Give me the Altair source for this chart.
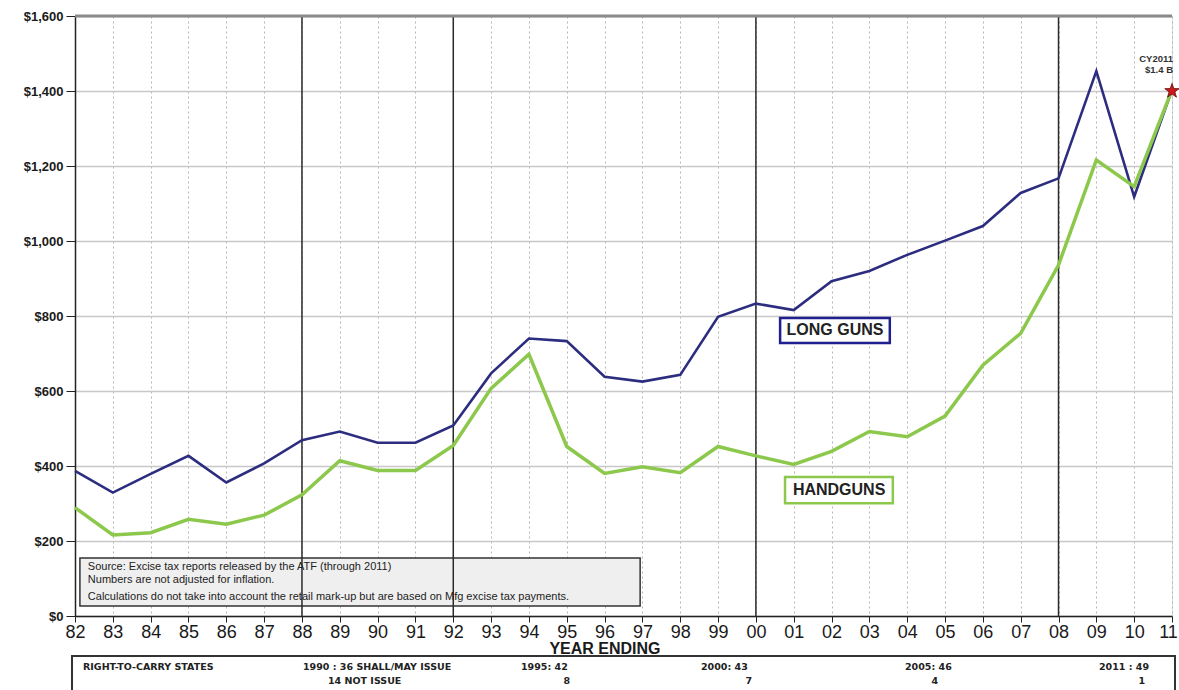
import altair as alt
import pandas as pd

# Federal excise-tax based estimate of firearm sales ($ millions), by year ending
years = list(range(1982, 2012))
long_guns = [387, 329, 379, 427, 356, 407, 469, 492, 462, 462,
             508, 647, 740, 733, 638, 625, 643, 798, 833, 816,
             893, 920, 963, 1001, 1040, 1128, 1167, 1453, 1118, 1403]
handguns = [289, 216, 222, 258, 245, 269, 323, 414, 388, 388,
            455, 607, 698, 452, 380, 398, 382, 452, 427, 404,
            439, 492, 478, 533, 669, 754, 936, 1216, 1145, 1403]

period_breaks = [1988, 1992, 2000, 2008]
y_ticks = list(range(0, 1601, 200))

star_year = 2011
star_value = 1400
star_label = ["CY2011", "$1.4 B"]

note_lines = [
    "Source: Excise tax reports  released by the ATF (through 2011)",
    "Numbers are not adjusted for inflation.",
    "Calculations do not take into account  the retail mark-up  but are based on Mfg excise tax payments.",
]

rtc_header = "RIGHT-TO-CARRY STATES"
rtc_years = ["1990 :", "1995:", "2000: ", "2005:", "2011 :"]
rtc_shall = [36, 42, 43, 46, 49]
rtc_not = [14, 8, 7, 4, 1]

FONT = "Arial"
BOX_FONT = "DejaVu Sans"
NAVY = "#2d2d80"
GREEN = "#8cc84b"

df = pd.DataFrame({
    "year": years * 2,
    "value": long_guns + handguns,
    "series": ["LONG GUNS"] * len(years) + ["HANDGUNS"] * len(years),
})

x_scale = alt.Scale(domain=[1982, 2011], nice=False, zero=False)
y_scale = alt.Scale(domain=[0, 1600], nice=False)

x_axis = alt.Axis(
    values=years, labelExpr="substring(toString(datum.value), 2, 4)",
    title=None, grid=True, gridDash=[2, 3], gridColor="#b4b4b4", gridWidth=1,
    labelFontSize=18, labelFont=FONT, labelColor="#1a1a1a", labelPadding=1,
    labelOffset={"condition": {"test": f"datum.value == {years[-1]}", "value": -4}, "value": 0},
    tickSize=6, tickColor="#222", domainColor="#222", domainWidth=1.5,
    labelOverlap=False, labelFlush=False,
)
y_axis = alt.Axis(
    values=y_ticks, format="$,.0f", title=None, grid=True,
    gridColor="#c8c8c8", gridWidth=1.5, labelFontSize=13, labelFont=FONT,
    labelFontWeight="bold", labelColor="#1a1a1a", labelPadding=3,
    tickSize=9, tickColor="#222", domainColor="#222", domainWidth=1.5,
)


def X(field):
    return alt.X(field, scale=x_scale, axis=x_axis)


def Y(field):
    return alt.Y(field, scale=y_scale, axis=y_axis)


# grey source-note box
note_box = alt.Chart(pd.DataFrame({"x": [1982.13], "x2": [1996.94], "y": [27], "y2": [155]})).mark_rect(
    fill="#efefef", stroke="#333", strokeWidth=1.5
).encode(x=X("x:Q"), x2="x2:Q", y=Y("y:Q"), y2="y2:Q")

note_text = alt.Chart(pd.DataFrame({
    "x": [1982.34] * 3, "y": [131, 96, 52], "t": note_lines,
})).mark_text(align="left", baseline="middle", font=FONT, fontSize=11, color="#222").encode(
    x=X("x:Q"), y=Y("y:Q"), text="t:N",
)

# solid period separators
breaks = alt.Chart(pd.DataFrame({"year": period_breaks})).mark_rule(
    color="#2a2a2a", strokeWidth=1.5
).encode(x=X("year:Q"))

top_rule = alt.Chart(pd.DataFrame({"value": [1600]})).mark_rule(
    color="#8a8a8a", strokeWidth=3
).encode(y=Y("value:Q"))

lines = alt.Chart(df).mark_line(strokeJoin="miter").encode(
    x=X("year:Q"),
    y=Y("value:Q"),
    color=alt.Color("series:N", scale=alt.Scale(domain=["HANDGUNS", "LONG GUNS"], range=[GREEN, NAVY]), legend=None),
    strokeWidth=alt.StrokeWidth("series:N", scale=alt.Scale(domain=["HANDGUNS", "LONG GUNS"], range=[3.5, 2.6]), legend=None),
    order=alt.Order("year:Q"),
)

# series label boxes
label_boxes = pd.DataFrame({
    "x": [2000.64, 2000.77], "x2": [2003.54, 2003.62],
    "y": [728, 301], "y2": [795, 371],
    "cy": [762, 336], "cx": [2002.09, 2002.2],
    "t": ["LONG GUNS", "HANDGUNS"], "s": ["LONG GUNS", "HANDGUNS"],
})
box_rects = alt.Chart(label_boxes).mark_rect(fill="white", strokeWidth=2.5).encode(
    x=X("x:Q"), x2="x2:Q", y=Y("y:Q"), y2="y2:Q",
    stroke=alt.Stroke("s:N", scale=alt.Scale(domain=["HANDGUNS", "LONG GUNS"], range=[GREEN, "#1f1f8f"]), legend=None),
)
box_text = alt.Chart(label_boxes).mark_text(
    font=FONT, fontSize=16, fontWeight="bold", color="#222", baseline="middle"
).encode(x=X("cx:Q"), y=Y("cy:Q"), text="t:N")

STAR = "M0,-1L0.24,-0.32L0.95,-0.31L0.38,0.12L0.59,0.81L0,0.4L-0.59,0.81L-0.38,0.12L-0.95,-0.31L-0.24,-0.32Z"
star = alt.Chart(pd.DataFrame({"year": [star_year], "value": [star_value]})).mark_point(
    shape=STAR, size=230, filled=True, fill="#d01818", stroke="#5a1010", strokeWidth=0.8, opacity=1
).encode(x=X("year:Q"), y=Y("value:Q"))

star_text = alt.Chart(pd.DataFrame({
    "year": [star_year] * 2, "value": [1485, 1455], "t": star_label,
})).mark_text(align="right", baseline="middle", font=FONT, fontSize=9.5, fontWeight="bold", color="#333", dx=1).encode(
    x=X("year:Q"), y=Y("value:Q"), text="t:N",
)

# footer below the axis (pixel positions relative to the plot origin)
year_ending = alt.Chart(pd.DataFrame({"px": [530], "py": [633], "t": ["YEAR ENDING"]})).mark_text(
    font=FONT, fontSize=16, fontWeight="bold", color="#1a1a1a", baseline="middle"
).encode(x=alt.X("px:Q", scale=None), y=alt.Y("py:Q", scale=None), text="t:N")

rtc_box = alt.Chart(pd.DataFrame({"a": [0]})).mark_rect(
    fill="white", stroke="#333", strokeWidth=2
).encode(x=alt.value(-3), x2=alt.value(1100), y=alt.value(640), y2=alt.value(690))

first_x = [228, 446, 626, 830, 1024]
num_end = [285, 495, 677, 863, 1070]
rows = [{"px": 8, "py": 651, "t": rtc_header, "a": "left"}]
for i in range(len(rtc_years)):
    lab = f"{rtc_years[i]} {rtc_shall[i]}"
    if i == 0:
        lab = "1990 :  36  SHALL/MAY ISSUE"
    rows.append({"px": first_x[i], "py": 651, "t": lab, "a": "left"})
    if i == 0:
        rows.append({"px": 253, "py": 665, "t": f"{rtc_not[i]}  NOT ISSUE", "a": "left"})
    else:
        rows.append({"px": num_end[i], "py": 665, "t": f"{rtc_not[i]}", "a": "right"})
rtc_df = pd.DataFrame(rows)
rtc_left = alt.Chart(rtc_df[rtc_df.a == "left"]).mark_text(
    align="left", baseline="middle", font=BOX_FONT, fontSize=9.5, fontWeight="bold", color="#222"
).encode(x=alt.X("px:Q", scale=None), y=alt.Y("py:Q", scale=None), text="t:N")
rtc_right = alt.Chart(rtc_df[rtc_df.a == "right"]).mark_text(
    align="right", baseline="middle", font=BOX_FONT, fontSize=9.5, fontWeight="bold", color="#222"
).encode(x=alt.X("px:Q", scale=None), y=alt.Y("py:Q", scale=None), text="t:N")

chart = alt.layer(
    note_box, note_text, breaks, top_rule, lines, box_rects, box_text,
    star, star_text, year_ending, rtc_box, rtc_left, rtc_right,
).properties(
    width=1097, height=600,
    autosize=alt.AutoSizeParams(type="none"),
    padding={"left": 75, "top": 16, "right": 7, "bottom": 74},
).configure_view(
    stroke="#222", strokeWidth=1.5
).configure(background="white")

chart.save("out.html", embed_options={"renderer": "svg", "actions": False})
